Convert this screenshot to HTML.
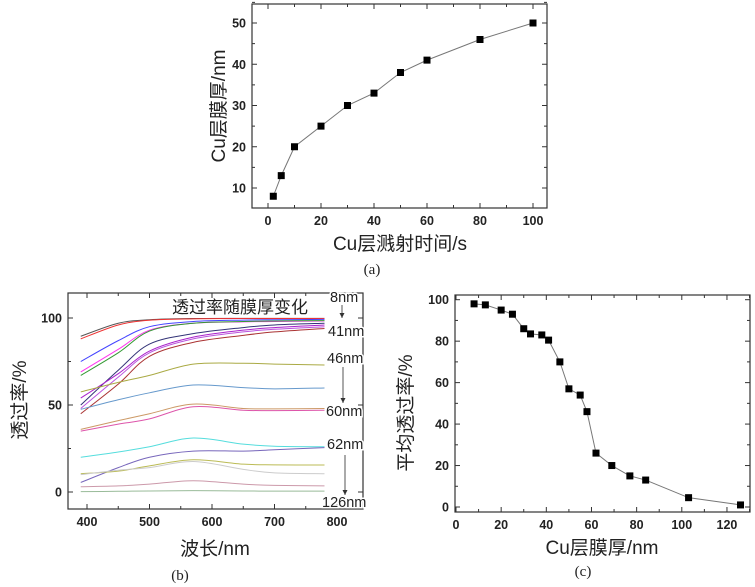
<!DOCTYPE html>
<html><head><meta charset="utf-8"><style>
html,body{margin:0;padding:0;background:#fff;}
svg{display:block;font-family:"Liberation Sans","Noto Sans CJK SC",sans-serif;}
.tk{font-weight:bold;font-size:12.5px;fill:#222;}
.ti{font-size:19px;fill:#222;}
.cap{font-family:"Liberation Serif",serif;font-size:15px;fill:#222;}
</style></head><body>
<svg id="root" width="755" height="587" viewBox="0 0 755 587">
</svg>
<script>
// Panel (a) data
const aTime = [2,5,10,20,30,40,50,60,80,100];
const aThick = [8,13,20,25,30,33,38,41,46,50];
// Panel (c) data
const cThick = [8,13,20,25,30,33,38,41,46,50,55,58,62,69,77,84,103,126];
const cTrans = [98,97.5,95,93,86,83.5,83,80.5,70,57,54,46,26,20,15,13,4.5,1];
// Panel (b) data
const bWave = [390,450,500,570,650,700,780];
const bColors = ["#555","#e33","#44f","#f3e","#393","#337","#a2c","#b5d","#a33","#aa4","#69c","#c96","#d5a","#5dd","#76b","#bb5","#ccc","#c9a","#9b9"];
const bSeries = [
 [89.5,97,99,99.7,99.8,99.8,99.8],
 [88,96,98.7,99.5,99.7,99.7,99.7],
 [75,87,95,98,98.8,99,99.2],
 [69,82,93,97,97.8,98,98.3],
 [67,80,92.5,97,98,98.3,98.5],
 [50,70,85,91,94.5,96,97],
 [54,68,81,89,93,94.5,96],
 [48,66,80,88,92,93.5,95],
 [45,62,78,86,90,92,94],
 [57.5,63,67,73.5,74,73.5,73],
 [47.5,53,57,61.5,60,59.3,59.8],
 [36,41,45,50.5,48,47.8,48],
 [35,39,42,49,47,46.8,47],
 [20,23,26,31,27.5,26.3,26],
 [5.5,14,20,23.5,23.5,24.3,25.5],
 [10.5,12,15,18.5,16,15.6,15.5],
 [10,12.5,14,17.5,13,11,10.5],
 [3,3.5,4.5,6.5,4.5,3.8,3.5],
 [0.2,0.4,0.6,0.8,0.6,0.5,0.5]
];
const bLabels = ["8nm","41nm","46nm","60nm","62nm","126nm"];

const NS="http://www.w3.org/2000/svg";
const root=document.getElementById('root');
function mk(tag,attrs,parent,text){const e=document.createElementNS(NS,tag);for(const k in attrs)e.setAttribute(k,attrs[k]);if(text!==undefined)e.textContent=text;(parent||root).appendChild(e);return e;}

function axes(g,box,xs,ys,xt,yt,xminor,yminor){
  const [L,T,R,B]=box;
  const fr=mk('rect',{x:L,y:T,width:R-L,height:B-T,fill:'none',stroke:'#333','stroke-width':1.2},g);
  
  
  xt.forEach(v=>{const x=xs(v);
    mk('line',{x1:x,x2:x,y1:B,y2:B-5,stroke:'#333'},g);
    mk('line',{x1:x,x2:x,y1:T,y2:T+5,stroke:'#333'},g);
    const l=mk('text',{x:x,y:B+17,'text-anchor':'middle',class:'tk'},g,v);
    
    
  });
  xminor.forEach(v=>{const x=xs(v);mk('line',{x1:x,x2:x,y1:B,y2:B-3,stroke:'#333'},g);mk('line',{x1:x,x2:x,y1:T,y2:T+3,stroke:'#333'},g);});
  yt.forEach(v=>{const y=ys(v);
    mk('line',{x1:L,x2:L+5,y1:y,y2:y,stroke:'#333'},g);
    mk('line',{x1:R,x2:R-5,y1:y,y2:y,stroke:'#333'},g);
    const l=mk('text',{x:L-6,y:y+4.5,'text-anchor':'end',class:'tk'},g,v);
    
    
  });
  yminor.forEach(v=>{const y=ys(v);mk('line',{x1:L,x2:L+3,y1:y,y2:y,stroke:'#333'},g);mk('line',{x1:R,x2:R-3,y1:y,y2:y,stroke:'#333'},g);});
}
function range(a,b,s){const r=[];for(let v=a;v<=b+1e-9;v+=s)r.push(+v.toFixed(3));return r;}
function markers(g,xsArr,ysArr,xs,ys,name){
  const pts=xsArr.map((v,i)=>xs(v)+','+ys(ysArr[i])).join(' ');
  const pl=mk('polyline',{points:pts,fill:'none',stroke:'#777','stroke-width':1},g);
  
  
  xsArr.forEach((v,i)=>{
    const r=mk('rect',{x:xs(v)-3.5,y:ys(ysArr[i])-3.5,width:7,height:7,fill:'#000'},g);
    
    
  });
}
function title(g,x,y,txt,rot,cls,name){
  const t=mk('text',{x:x,y:y,'text-anchor':'middle',class:cls||'ti',transform:rot?`rotate(-90 ${x} ${y})`:''},g,txt);
  
  
}

// ---- Panel a
const ga=mk('g',{});


const axs=v=>268+v*2.65, ays=v=>188-(v-10)*4.125;
axes(ga,[252,4,547,208],axs,ays,[0,20,40,60,80,100],[10,20,30,40,50],range(10,90,20),range(15,55,10));
markers(ga,aTime,aThick,axs,ays,'series-a');
title(ga,400,250,'Cu层溅射时间/s',false,'ti','x-axis-title-a');
title(ga,225,106,'Cu层膜厚/nm',true,'ti','y-axis-title-a');
title(ga,372,274,'(a)',false,'cap','caption-a');

// ---- Panel b
const gb=mk('g',{});


const bxs=v=>87+(v-400)*0.625, bys=v=>492-v*1.74;
axes(gb,[68,293,363,509],bxs,bys,[400,500,600,700,800],[0,50,100],range(450,750,100),[25,75]);
function smooth(xsA,ysA){
  const P=xsA.map((v,i)=>[bxs(v),ysA[i]]);
  let d='M'+P[0][0]+','+P[0][1];
  for(let i=0;i<P.length-1;i++){
    const p0=P[Math.max(0,i-1)],p1=P[i],p2=P[i+1],p3=P[Math.min(P.length-1,i+2)];
    const c1=[p1[0]+(p2[0]-p0[0])/6,p1[1]+(p2[1]-p0[1])/6];
    const c2=[p2[0]-(p3[0]-p1[0])/6,p2[1]-(p3[1]-p1[1])/6];
    d+=` C${c1[0]},${c1[1]} ${c2[0]},${c2[1]} ${p2[0]},${p2[1]}`;
  }
  return d;
}
bSeries.forEach((s,i)=>{
  const p=mk('path',{d:smooth(bWave,s.map(bys)),fill:'none',stroke:bColors[i],'stroke-width':1},gb);
  
  
});
const bt=mk('text',{x:172,y:313,style:'font-size:17px;fill:#222'},gb,'透过率随膜厚变化');


const lblY=[302,336,363,416,449,507], lblX=[330,328,327,326,327,322];
bLabels.forEach((t,i)=>{
  const l=mk('text',{x:lblX[i],y:lblY[i],style:'font-size:14.5px;fill:#222;stroke:#fff;stroke-width:3;paint-order:stroke'},gb,t);
  
  
});
[[342,305,318],[343,367,403],[345,455,495]].forEach(a=>{
  const l=mk('line',{x1:a[0],x2:a[0],y1:a[1],y2:a[2],stroke:'#555'},gb);
  
  
  mk('path',{d:`M${a[0]-2.5},${a[2]-5} L${a[0]+2.5},${a[2]-5} L${a[0]},${a[2]} Z`,fill:'#333'},gb);
});
title(gb,215,555,'波长/nm',false,'ti','x-axis-title-b');
title(gb,26,400,'透过率/%',true,'ti','y-axis-title-b');
title(gb,180,580,'(b)',false,'cap','caption-b');

// ---- Panel c
const gc=mk('g',{});


const cxs=v=>456+v*2.258, cys=v=>507-v*2.073;
axes(gc,[455,295,750,512],cxs,cys,[0,20,40,60,80,100,120],[0,20,40,60,80,100],range(10,130,20),range(10,90,20));
markers(gc,cThick,cTrans,cxs,cys,'series-c');
title(gc,602,554,'Cu层膜厚/nm',false,'ti','x-axis-title-c');
title(gc,412,413,'平均透过率/%',true,'ti','y-axis-title-c');
title(gc,583,576,'(c)',false,'cap','caption-c');
</script>
</body></html>
